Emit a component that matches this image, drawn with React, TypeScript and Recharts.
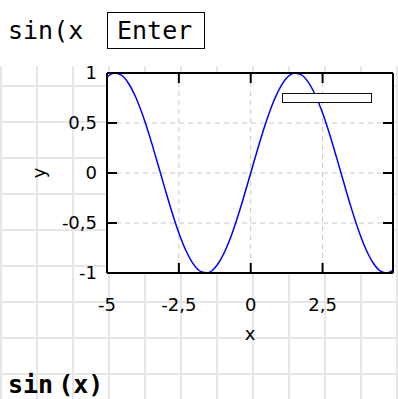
import { LineChart, Line, XAxis, YAxis, CartesianGrid, Label, Legend } from 'recharts';

// values
const xValues = [
  -5, -4.75, -4.5, -4.25, -4, -3.75, -3.5, -3.25, -3, -2.75, -2.5, -2.25, -2, -1.75, -1.5, -1.25, -1, -0.75, -0.5, -0.25,
  0, 0.25, 0.5, 0.75, 1, 1.25, 1.5, 1.75, 2, 2.25, 2.5, 2.75, 3, 3.25, 3.5, 3.75, 4, 4.25, 4.5, 4.75, 4.95,
];
const yValues = [
  0.959, 0.999, 0.978, 0.895, 0.757, 0.572, 0.351, 0.108, -0.141, -0.382, -0.599, -0.778, -0.909, -0.984, -0.998, -0.949,
  -0.841, -0.682, -0.479, -0.247, 0, 0.247, 0.479, 0.682, 0.841, 0.949, 0.998, 0.984, 0.909, 0.778, 0.599, 0.382, 0.141,
  -0.108, -0.351, -0.572, -0.757, -0.895, -0.978, -0.999, -0.971,
];
const xTicks = [-5, -2.5, 0, 2.5];
const yTicks = [-1, -0.5, 0, 0.5, 1];

const data = xValues.map((x, i) => ({ x, y: yValues[i] }));

const fmt = (v: number) => String(v).replace('.', ',');
const axisFont = { fontSize: 18, fontFamily: 'DejaVu Sans', fill: '#000' };
const border = { stroke: '#000', strokeWidth: 2 };
const noLabel = () => <g />;

export default function App() {
  return (
    <div style={{ position: 'absolute', left: 0, top: 0, width: 398, height: 399, background: '#fff', overflow: 'hidden' }}>
      <div
        style={{
          position: 'absolute', left: 0, top: 66, width: 398, height: 333,
          backgroundImage:
            'linear-gradient(to right, #e6e6e6 2px, transparent 2px), linear-gradient(to bottom, #e6e6e6 2px, transparent 2px)',
          backgroundSize: '36px 36px, 36px 36px',
          backgroundPosition: '0px 0px, 0px 19px',
        }}
      />
      <div style={{ position: 'absolute', left: 8, top: 18, fontFamily: 'DejaVu Sans Mono', fontSize: 25, lineHeight: '25px', color: '#000' }}>
        sin(x
      </div>
      <div
        style={{
          position: 'absolute', left: 107, top: 12, width: 96, height: 35, border: '1px solid #000', boxSizing: 'content-box',
          fontFamily: 'DejaVu Sans Mono', fontSize: 25, lineHeight: '25px', color: '#000',
        }}
      >
        <span style={{ position: 'absolute', left: 9, top: 5 }}>Enter</span>
      </div>
      <div style={{ position: 'absolute', left: 0, top: 0 }}>
        <LineChart width={398} height={399} data={data} margin={{ top: 72, right: 4, bottom: 56, left: 0 }}>
          <CartesianGrid stroke="#c8c8c8" strokeDasharray="5 4" fill="#fff" />
          <XAxis
            dataKey="x" type="number" domain={[-5, 4.95]} ticks={xTicks} allowDataOverflow interval={0}
            height={70} tickSize={-10} tickMargin={35} tickFormatter={fmt}
            axisLine={border} tickLine={border} tick={axisFont}
          >
            <Label value="x" position="insideBottom" offset={3} style={{ fontSize: 18, fontFamily: 'DejaVu Sans', fill: '#000' }} />
          </XAxis>
          <XAxis
            xAxisId="top" orientation="top" dataKey="x" type="number" domain={[-5, 4.95]} ticks={xTicks} allowDataOverflow interval={0}
            height={1} tickSize={-10} axisLine={border} tickLine={border} tick={noLabel}
          />
          <YAxis
            type="number" domain={[-1, 1]} ticks={yTicks} allowDataOverflow interval={0}
            width={107} tickSize={-10} tickMargin={20} tickFormatter={fmt}
            axisLine={border} tickLine={border} tick={axisFont}
            label={{
              content: (props: any) => {
                const vb = props.viewBox;
                const cx = vb.x + 38;
                const cy = vb.y + vb.height / 2;
                return (
                  <text x={cx} y={cy} textAnchor="middle" dominantBaseline="central" transform={`rotate(-90 ${cx} ${cy})`}
                    style={{ fontSize: 18, fontFamily: 'DejaVu Sans', fill: '#000' }}>
                    y
                  </text>
                );
              },
            }}
          />
          <YAxis
            yAxisId="right" orientation="right" type="number" domain={[-1, 1]} ticks={yTicks} allowDataOverflow interval={0}
            width={1} tickSize={-10} axisLine={border} tickLine={border} tick={noLabel}
          />
          <Legend
            layout="horizontal" verticalAlign="middle"
            wrapperStyle={{ left: 282, top: 93, width: 91, height: 11 }}
            content={() => (
              <div style={{ width: 88, height: 8, border: '1.5px solid #111', background: '#fff' }} />
            )}
          />
          <Line type="monotone" dataKey="y" stroke="#0000ff" strokeWidth={1.5} dot={false} activeDot={false} isAnimationActive={false} />
        </LineChart>
      </div>
      <div style={{ position: 'absolute', left: 8, top: 372, fontFamily: 'DejaVu Sans Mono', fontWeight: 'bold', fontSize: 25, lineHeight: '25px', color: '#000', whiteSpace: 'pre' }}>
        sin<span style={{ marginLeft: 5 }}>(x)</span>
      </div>
    </div>
  );
}
